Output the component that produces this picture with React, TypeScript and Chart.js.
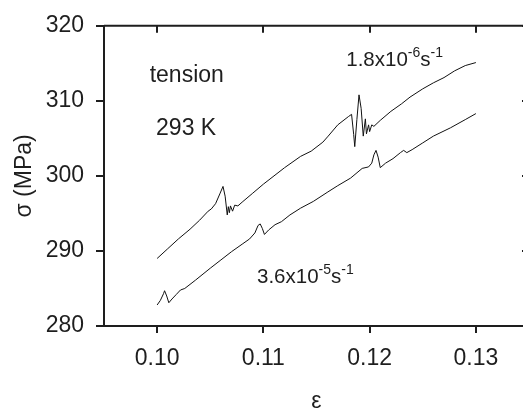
import { useEffect, useRef } from 'react';
import { Chart, registerables } from 'chart.js';

Chart.register(...registerables);

// Axis ticks
const xTicks = [0.1, 0.11, 0.12, 0.13];
const yTicks = [280, 290, 300, 310, 320];

// Strain-rate 1.8x10^-6 s^-1 (upper curve)
const strainSlow = [
  0.1, 0.101, 0.102, 0.1031, 0.104, 0.1048, 0.1051, 0.1055, 0.1059, 0.1062,
  0.1064, 0.1066, 0.1067, 0.1068, 0.1069, 0.1071, 0.1073, 0.1076, 0.108, 0.109,
  0.11, 0.111, 0.112, 0.1135, 0.1145, 0.1156, 0.1161, 0.117, 0.118, 0.1183,
  0.1185, 0.1186, 0.1188, 0.119, 0.1192, 0.1194, 0.1196, 0.1197, 0.1199, 0.12,
  0.1202, 0.1204, 0.121, 0.122, 0.123, 0.1238, 0.125, 0.126, 0.127, 0.128,
  0.129, 0.13,
];
const stressSlow = [
  289.0, 290.3, 291.6, 292.9, 294.1, 295.3, 295.6, 296.3, 297.6, 298.6,
  297.3, 294.8, 295.9, 295.1, 296.0, 295.3, 296.1, 296.0, 296.5, 297.7,
  298.9, 300.0, 301.1, 302.6, 303.3, 304.5, 305.3, 306.8, 307.9, 308.2,
  305.5, 303.9, 307.5, 310.8, 309.0, 305.3, 307.6, 305.6, 306.8, 305.9,
  306.8, 306.6, 307.4, 308.6, 309.6, 310.5, 311.6, 312.4, 313.1, 314.0,
  314.7, 315.1,
];

// Strain-rate 3.6x10^-5 s^-1 (lower curve)
const strainFast = [
  0.1, 0.1003, 0.1006, 0.1007, 0.1009, 0.1011, 0.1014, 0.1018, 0.1022, 0.1026,
  0.1036, 0.105, 0.106, 0.107, 0.108, 0.1087, 0.1092, 0.1095, 0.1097, 0.1099,
  0.1101, 0.1105, 0.1111, 0.1117, 0.1125, 0.1135, 0.1147, 0.116, 0.117, 0.1182,
  0.1193, 0.1199, 0.1202, 0.1204, 0.1206, 0.1208, 0.121, 0.1215, 0.1222, 0.1229,
  0.1232, 0.1235, 0.124, 0.125, 0.126, 0.1276, 0.129, 0.13,
];
const stressFast = [
  282.8, 283.4, 284.3, 284.7, 284.0, 283.1, 283.6, 284.2, 284.8, 285.0,
  286.1, 287.7, 288.8, 289.9, 290.9, 291.6, 292.4, 293.4, 293.6, 293.0,
  292.2, 292.8, 293.5, 293.9, 294.8, 295.7, 296.6, 297.8, 298.7, 299.7,
  301.0, 301.2, 301.7, 302.8, 303.4, 302.5, 301.1, 301.7, 302.3, 303.1,
  303.4, 303.1, 303.5, 304.4, 305.3, 306.4, 307.5, 308.3,
];

const FONT = '"Liberation Sans", Arial, Helvetica, sans-serif';
const INK = '#1e1e1e';

type Rate = { x: number; y: number; base: string; exp: string; unit: string; unitExp: string };
const rateLabels: Rate[] = [
  { x: 0.1178, y: 314.6, base: '1.8x10', exp: '-6', unit: 's', unitExp: '-1' },
  { x: 0.1094, y: 285.7, base: '3.6x10', exp: '-5', unit: 's', unitExp: '-1' },
];
const plainLabels = [
  { x: 0.0993, y: 312.5, text: 'tension' },
  { x: 0.0999, y: 305.4, text: '293 K' },
];

const framePlugin = {
  id: 'frame',
  afterDraw(chart: any) {
    const { ctx, chartArea: a, scales } = chart;
    ctx.save();
    ctx.strokeStyle = INK;
    ctx.lineWidth = 2;
    ctx.beginPath();
    ctx.moveTo(a.left, a.top);
    ctx.lineTo(a.right, a.top);
    ctx.lineTo(a.right, a.bottom);
    xTicks.forEach((v) => {
      const px = Math.round(scales.x.getPixelForValue(v));
      ctx.moveTo(px, a.top);
      ctx.lineTo(px, a.top + 7);
    });
    yTicks.forEach((v) => {
      const py = Math.round(scales.y.getPixelForValue(v));
      ctx.moveTo(a.right, py);
      ctx.lineTo(a.right - 7, py);
    });
    ctx.stroke();

    ctx.fillStyle = INK;
    ctx.textBaseline = 'alphabetic';
    ctx.textAlign = 'left';
    plainLabels.forEach((l) => {
      ctx.font = `23px ${FONT}`;
      ctx.fillText(l.text, scales.x.getPixelForValue(l.x), scales.y.getPixelForValue(l.y));
    });
    rateLabels.forEach((r) => {
      let x = scales.x.getPixelForValue(r.x);
      const y = scales.y.getPixelForValue(r.y);
      ctx.font = `20.5px ${FONT}`;
      ctx.fillText(r.base, x, y);
      x += ctx.measureText(r.base).width;
      ctx.font = `14px ${FONT}`;
      ctx.fillText(r.exp, x, y - 9);
      x += ctx.measureText(r.exp).width;
      ctx.font = `20.5px ${FONT}`;
      ctx.fillText(r.unit, x, y);
      x += ctx.measureText(r.unit).width;
      ctx.font = `14px ${FONT}`;
      ctx.fillText(r.unitExp, x, y - 9);
    });
    ctx.restore();
  },
};

export default function App() {
  const ref = useRef<HTMLCanvasElement | null>(null);
  useEffect(() => {
    document.body.style.margin = '0';
    const canvas = ref.current;
    if (!canvas) return;
    const toPts = (xs: number[], ys: number[]) => xs.map((x, i) => ({ x, y: ys[i] }));
    const chart = new Chart(canvas, {
      type: 'line',
      data: {
        datasets: [
          {
            label: '1.8x10^-6 s^-1',
            data: toPts(strainSlow, stressSlow),
            borderColor: '#111',
            borderWidth: 1,
            pointRadius: 0,
            tension: 0,
            fill: false,
          },
          {
            label: '3.6x10^-5 s^-1',
            data: toPts(strainFast, stressFast),
            borderColor: '#111',
            borderWidth: 1,
            pointRadius: 0,
            tension: 0,
            fill: false,
          },
        ],
      },
      options: {
        animation: false,
        responsive: false,
        devicePixelRatio: 1,
        layout: { padding: { top: 20, left: 0, right: 1, bottom: 0 } },
        plugins: { legend: { display: false }, tooltip: { enabled: false } },
        scales: {
          x: {
            type: 'linear',
            min: 0.095,
            max: 0.135,
            afterFit: (s: any) => {
              s.height = 84;
            },
            afterBuildTicks: (s: any) => {
              s.ticks = xTicks.map((v) => ({ value: v }));
            },
            ticks: {
              color: INK,
              font: { family: FONT, size: 23 },
              padding: 12,
              maxRotation: 0,
              autoSkip: false,
              callback: (v: any) => Number(v).toFixed(2),
            },
            grid: { drawOnChartArea: false, drawTicks: true, tickLength: 7, color: INK, lineWidth: 2 },
            border: { display: true, color: INK, width: 2 },
            title: {
              display: true,
              text: 'ε',
              color: INK,
              font: { family: FONT, size: 23, lineHeight: 1 },
              padding: { top: 0, bottom: -3 },
            },
          },
          y: {
            type: 'linear',
            min: 280,
            max: 320,
            afterFit: (s: any) => {
              s.width = 104;
            },
            afterBuildTicks: (s: any) => {
              s.ticks = yTicks.map((v) => ({ value: v }));
            },
            ticks: {
              color: INK,
              font: { family: FONT, size: 23 },
              padding: 12,
              autoSkip: false,
              callback: (v: any) => String(v),
            },
            grid: { drawOnChartArea: false, drawTicks: true, tickLength: 8, color: INK, lineWidth: 2 },
            border: { display: true, color: INK, width: 2 },
            title: {
              display: true,
              text: 'σ (MPa)',
              color: INK,
              font: { family: FONT, size: 23 },
              padding: { top: 11, bottom: 0 },
            },
          },
        },
      },
      plugins: [framePlugin],
    });
    return () => chart.destroy();
  }, []);

  return (
    <div style={{ width: 523, height: 410, overflow: 'hidden', position: 'relative' }}>
      <canvas ref={ref} width={530} height={410} style={{ width: 530, height: 410, display: 'block' }} />
    </div>
  );
}
